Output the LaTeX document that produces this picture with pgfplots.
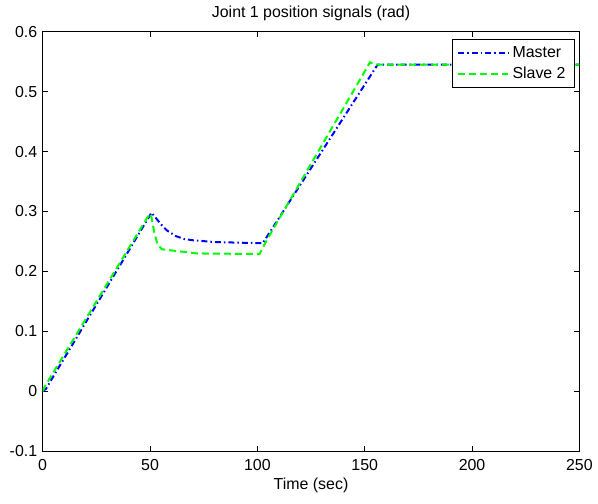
\documentclass[border=0pt]{standalone}
\usepackage{fontspec}
\setmainfont{Liberation Sans}
\usepackage{pgfplots}
\pgfplotsset{compat=1.18}
\definecolor{mblue}{rgb}{0,0,1}
\definecolor{sgreen}{rgb}{0,1,0}
\begin{document}
\fontsize{16}{19}\selectfont
\begin{tikzpicture}
\begin{axis}[
    name=ax,
    scale only axis,
    width=537.3bp, height=420bp,
    xmin=0, xmax=250, ymin=-0.1, ymax=0.6,
    xtick={0,50,...,250},
    ytick={-0.1,0,0.1,0.2,0.3,0.4,0.5,0.6},
    yticklabels={-0.1,0,0.1,0.2,0.3,0.4,0.5,0.6},
    /pgf/number format/assume math mode=true,
    tick align=inside,
    major tick length=5bp,
    tick style={black, line width=0.5bp},
    axis line style={line width=1bp},
    xticklabel style={yshift=-3bp},
    title={Joint 1 position signals (rad)},
    title style={yshift=-1bp},
    xlabel={Time (sec)},
    xlabel style={yshift=4bp},
    legend style={at={(1,1)}, anchor=north east, xshift=-5bp, yshift=-7.5bp,
      draw=black, line width=0.6bp, inner xsep=5bp, inner ysep=5bp,
      row sep=3bp, cells={anchor=west},
      nodes={inner xsep=3.5bp}},
    legend image code/.code={\draw[#1] (0bp,0bp) -- (50bp,0bp);},
  ]
\addplot[mblue, line width=2bp, dash pattern=on 6bp off 3bp on 1.5bp off 3bp] coordinates {
  (0,0) (1.5,0.004) (50.7,0.298) (53,0.288) (55,0.279) (58,0.268) (62,0.259)
  (66,0.254) (70,0.252) (80,0.249) (102.5,0.247) (156,0.545) (250,0.545)
};
\addplot[sgreen, line width=2bp, dash pattern=on 7bp off 4bp] coordinates {
  (0,0) (1,0.008) (49.8,0.296) (50.7,0.290) (52,0.265) (53.5,0.245) (55.5,0.237)
  (60,0.235) (65,0.233) (72,0.230) (101,0.229) (104.5,0.253) (152.5,0.549)
  (154.5,0.545) (250,0.545)
};
\legend{Master, Slave 2}
\end{axis}
\path ([xshift=-42.7bp,yshift=-52.3bp]ax.south west) rectangle ([xshift=18bp,yshift=31.7bp]ax.north east);
\end{tikzpicture}
\end{document}
